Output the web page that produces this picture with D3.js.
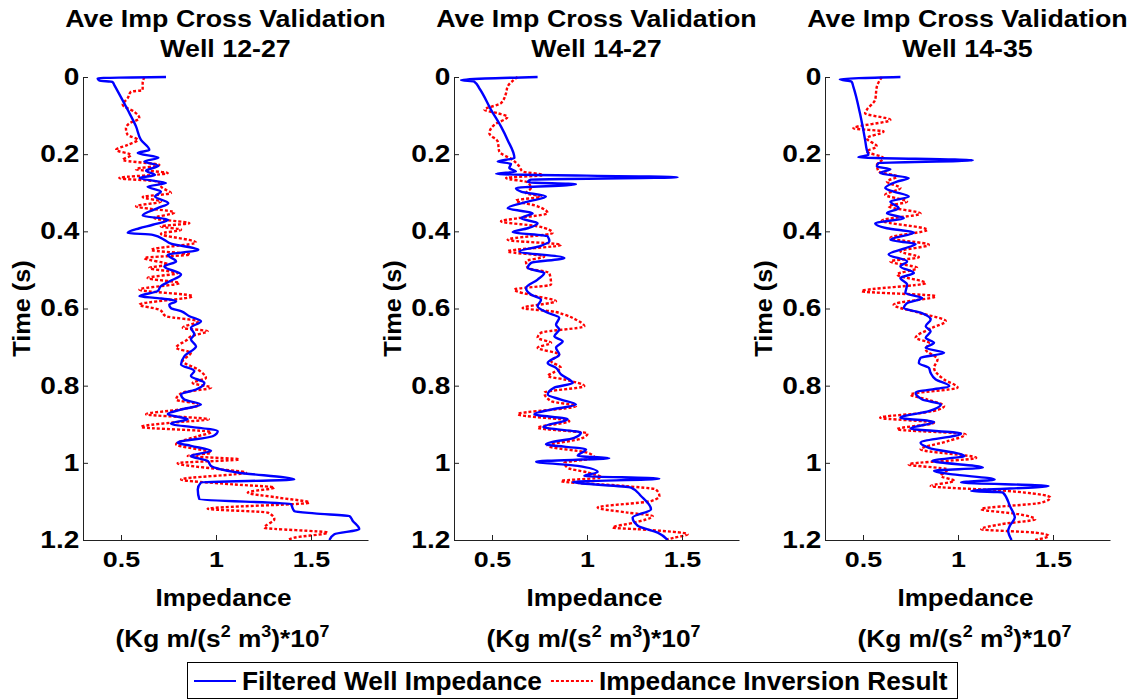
<!DOCTYPE html>
<html>
<head>
<meta charset="utf-8">
<script src="https://cdn.jsdelivr.net/npm/d3@7"></script>
<style>
  body { margin: 0; background: #fff; }
  text { font-family: "Liberation Sans", Arial, Helvetica, sans-serif; font-weight: bold; fill: #000; }
</style>
</head>
<body>
<div id="chart"></div>
<script>
// Data: [time (s), impedance]
var blue1227 = [[0.000,0.737],[0.003,0.377],[0.009,0.386],[0.013,0.456],[0.021,0.465],[0.085,0.535],[0.128,0.579],[0.163,0.605],[0.189,0.649],[0.197,0.588],[0.209,0.697],[0.219,0.623],[0.230,0.697],[0.243,0.632],[0.254,0.679],[0.262,0.597],[0.275,0.737],[0.284,0.640],[0.297,0.710],[0.310,0.679],[0.327,0.749],[0.340,0.693],[0.359,0.614],[0.370,0.749],[0.383,0.667],[0.392,0.597],[0.404,0.535],[0.409,0.667],[0.422,0.728],[0.432,0.763],[0.448,0.907],[0.461,0.746],[0.478,0.790],[0.491,0.728],[0.512,0.816],[0.530,0.754],[0.542,0.710],[0.555,0.693],[0.568,0.597],[0.573,0.693],[0.581,0.790],[0.590,0.754],[0.599,0.763],[0.607,0.816],[0.620,0.860],[0.633,0.921],[0.650,0.868],[0.667,0.886],[0.680,0.868],[0.698,0.895],[0.724,0.833],[0.745,0.816],[0.762,0.886],[0.775,0.868],[0.793,0.939],[0.810,0.895],[0.823,0.816],[0.836,0.833],[0.849,0.921],[0.862,0.816],[0.874,0.746],[0.887,0.851],[0.898,0.763],[0.918,1.009],[0.931,0.982],[0.948,0.798],[0.956,0.868],[0.969,0.974],[0.982,0.868],[0.995,0.956],[1.008,0.974],[1.025,1.114],[1.043,1.412],[1.051,0.921],[1.069,0.904],[1.094,0.912],[1.107,1.395],[1.113,1.400],[1.125,1.412],[1.131,1.518],[1.138,1.702],[1.150,1.719],[1.172,1.754],[1.185,1.623],[1.200,1.597]];
var red1227 = [[0.000,0.623],[0.016,0.614],[0.034,0.614],[0.038,0.553],[0.055,0.535],[0.072,0.509],[0.090,0.570],[0.107,0.597],[0.120,0.544],[0.133,0.526],[0.150,0.535],[0.163,0.588],[0.176,0.535],[0.189,0.474],[0.202,0.553],[0.215,0.509],[0.228,0.702],[0.239,0.579],[0.249,0.746],[0.262,0.491],[0.271,0.693],[0.288,0.719],[0.301,0.763],[0.311,0.614],[0.323,0.710],[0.335,0.579],[0.351,0.781],[0.366,0.676],[0.379,0.860],[0.387,0.710],[0.396,0.816],[0.406,0.710],[0.429,0.895],[0.448,0.658],[0.460,0.864],[0.469,0.623],[0.486,0.746],[0.495,0.649],[0.508,0.798],[0.521,0.640],[0.534,0.807],[0.551,0.597],[0.568,0.877],[0.590,0.597],[0.603,0.702],[0.620,0.737],[0.633,0.904],[0.650,0.825],[0.659,0.956],[0.672,0.868],[0.680,0.851],[0.702,0.790],[0.715,0.868],[0.736,0.825],[0.758,0.904],[0.780,0.947],[0.793,0.877],[0.805,0.974],[0.818,0.825],[0.836,0.790],[0.849,0.912],[0.862,0.807],[0.874,0.632],[0.887,0.962],[0.896,0.763],[0.907,0.605],[0.920,0.975],[0.931,0.904],[0.952,0.790],[0.974,0.974],[0.982,0.851],[0.991,1.123],[1.001,0.798],[1.017,1.026],[1.025,1.158],[1.043,0.816],[1.056,1.096],[1.064,1.307],[1.077,1.167],[1.090,1.325],[1.103,1.491],[1.119,0.956],[1.129,1.272],[1.146,1.307],[1.168,1.254],[1.181,1.588],[1.194,1.412],[1.200,1.377]];

var blue1427 = [[0.000,0.740],[0.008,0.337],[0.012,0.407],[0.029,0.433],[0.085,0.495],[0.128,0.547],[0.163,0.582],[0.210,0.618],[0.219,0.530],[0.225,0.600],[0.236,0.591],[0.245,0.626],[0.251,0.521],[0.260,1.477],[0.266,0.705],[0.273,0.688],[0.278,0.942],[0.288,0.626],[0.297,0.653],[0.310,0.784],[0.323,0.688],[0.340,0.582],[0.353,0.714],[0.366,0.653],[0.379,0.740],[0.392,0.688],[0.402,0.609],[0.413,0.793],[0.426,0.802],[0.439,0.749],[0.452,0.644],[0.469,0.881],[0.482,0.705],[0.495,0.688],[0.508,0.775],[0.525,0.740],[0.547,0.679],[0.564,0.705],[0.577,0.758],[0.594,0.740],[0.611,0.793],[0.624,0.854],[0.642,0.837],[0.654,0.854],[0.672,0.828],[0.685,0.872],[0.702,0.837],[0.719,0.854],[0.741,0.793],[0.754,0.837],[0.771,0.863],[0.793,0.925],[0.805,0.828],[0.823,0.793],[0.836,0.863],[0.849,0.942],[0.862,0.811],[0.874,0.723],[0.887,0.898],[0.907,0.770],[0.922,0.968],[0.935,0.933],[0.952,0.784],[0.965,0.995],[0.982,0.951],[0.988,1.117],[0.997,0.732],[1.008,0.951],[1.024,1.056],[1.034,0.986],[1.041,1.381],[1.050,0.925],[1.064,1.232],[1.086,1.284],[1.120,1.337],[1.142,1.240],[1.163,1.267],[1.181,1.372],[1.200,1.425]];
var red1427 = [[0.000,0.635],[0.025,0.582],[0.042,0.574],[0.068,0.547],[0.085,0.460],[0.094,0.530],[0.103,0.582],[0.124,0.512],[0.146,0.486],[0.167,0.530],[0.193,0.538],[0.215,0.609],[0.232,0.644],[0.245,0.661],[0.254,0.767],[0.262,0.574],[0.273,0.688],[0.288,0.705],[0.301,0.679],[0.310,0.758],[0.320,0.626],[0.335,0.740],[0.353,0.793],[0.366,0.635],[0.374,0.547],[0.387,0.740],[0.404,0.819],[0.422,0.582],[0.435,0.863],[0.452,0.582],[0.465,0.775],[0.478,0.679],[0.495,0.688],[0.508,0.802],[0.538,0.811],[0.551,0.617],[0.568,0.732],[0.581,0.837],[0.599,0.661],[0.607,0.811],[0.616,0.881],[0.629,0.942],[0.646,0.986],[0.663,0.758],[0.676,0.740],[0.689,0.811],[0.702,0.740],[0.719,0.854],[0.736,0.811],[0.754,0.863],[0.767,0.819],[0.775,0.793],[0.784,0.881],[0.801,0.986],[0.818,0.775],[0.840,0.811],[0.853,0.942],[0.874,0.635],[0.892,0.907],[0.909,0.740],[0.924,1.003],[0.937,0.970],[0.956,0.793],[0.974,1.003],[0.987,1.039],[1.000,0.881],[1.013,0.898],[1.025,1.003],[1.038,1.074],[1.047,0.863],[1.060,1.196],[1.069,1.363],[1.086,1.381],[1.099,1.337],[1.116,1.056],[1.129,1.214],[1.138,1.346],[1.155,1.249],[1.168,1.135],[1.172,1.267],[1.185,1.530],[1.194,1.460],[1.200,1.407]];

var blue1435 = [[0.000,0.697],[0.006,0.378],[0.012,0.440],[0.025,0.449],[0.094,0.484],[0.163,0.511],[0.189,0.520],[0.202,0.528],[0.208,0.475],[0.216,1.078],[0.223,0.582],[0.232,0.573],[0.239,0.644],[0.249,0.590],[0.262,0.741],[0.271,0.679],[0.288,0.617],[0.297,0.661],[0.310,0.741],[0.323,0.644],[0.340,0.688],[0.353,0.626],[0.366,0.715],[0.379,0.564],[0.392,0.626],[0.403,0.768],[0.422,0.644],[0.433,0.777],[0.445,0.715],[0.460,0.635],[0.478,0.732],[0.491,0.697],[0.508,0.768],[0.521,0.697],[0.538,0.732],[0.560,0.723],[0.573,0.812],[0.586,0.732],[0.599,0.715],[0.611,0.803],[0.629,0.856],[0.646,0.830],[0.659,0.856],[0.676,0.830],[0.689,0.874],[0.702,0.830],[0.715,0.927],[0.728,0.803],[0.741,0.794],[0.754,0.847],[0.767,0.856],[0.784,0.883],[0.801,0.954],[0.818,0.777],[0.836,0.812],[0.849,0.910],[0.866,0.847],[0.883,0.697],[0.894,0.874],[0.911,0.750],[0.924,1.016],[0.948,0.803],[0.961,0.847],[0.982,1.034],[0.995,0.865],[1.012,1.131],[1.021,0.874],[1.030,0.972],[1.043,1.193],[1.051,1.016],[1.060,1.477],[1.073,1.069],[1.077,1.237],[1.112,1.273],[1.142,1.299],[1.163,1.273],[1.176,1.264],[1.200,1.282]];
var red1435 = [[0.000,0.599],[0.025,0.573],[0.059,0.564],[0.085,0.520],[0.094,0.511],[0.111,0.644],[0.133,0.449],[0.141,0.608],[0.159,0.520],[0.180,0.573],[0.193,0.520],[0.210,0.608],[0.228,0.573],[0.245,0.582],[0.258,0.679],[0.271,0.626],[0.288,0.697],[0.305,0.617],[0.323,0.732],[0.335,0.635],[0.354,0.803],[0.372,0.599],[0.396,0.839],[0.417,0.644],[0.435,0.847],[0.452,0.697],[0.467,0.794],[0.478,0.644],[0.495,0.785],[0.512,0.679],[0.534,0.830],[0.555,0.493],[0.568,0.883],[0.590,0.661],[0.611,0.794],[0.633,0.936],[0.650,0.865],[0.676,0.777],[0.689,0.847],[0.706,0.830],[0.732,0.892],[0.754,0.874],[0.784,0.927],[0.805,0.998],[0.823,0.750],[0.836,0.839],[0.853,0.927],[0.870,0.821],[0.883,0.590],[0.896,0.874],[0.913,0.679],[0.926,1.040],[0.944,0.945],[0.965,0.803],[0.987,1.096],[1.004,0.741],[1.017,0.945],[1.034,0.910],[1.047,0.980],[1.060,0.856],[1.073,1.264],[1.090,1.486],[1.103,1.442],[1.120,1.122],[1.133,1.317],[1.146,1.406],[1.159,1.229],[1.172,1.122],[1.181,1.406],[1.189,1.477],[1.200,1.406]];

var wells = ["Well 12-27", "Well 14-27", "Well 14-35"];
var filtered = [blue1227, blue1427, blue1435];
var inverted = [red1227, red1427, red1435];
var timeTicks = [0, 0.2, 0.4, 0.6, 0.8, 1, 1.2];
var impTicks = [0.5, 1, 1.5];
var seriesNames = ["Filtered Well Impedance", "Impedance Inversion Result"];

// layout
var W = 1131, H = 700;
var panelLeft = [83, 454, 825], pw = 285, plotTop = 77, plotBottom = 540;

var svg = d3.select("#chart").append("svg")
    .attr("width", W)
    .attr("height", H);

var y = d3.scaleLinear().domain([0, 1.2]).range([plotTop, plotBottom]);
var x = d3.scaleLinear().domain([0.3, 1.8]).range([0, pw]);

var line = d3.line()
    .x(function(d) { return x(d[1]); })
    .y(function(d) { return y(d[0]); })
    .curve(d3.curveMonotoneY);

svg.append("clipPath").attr("id", "plotclip")
  .append("rect")
    .attr("x", 0).attr("y", plotTop - 3)
    .attr("width", pw).attr("height", plotBottom - plotTop + 3);

wells.forEach(function(well, i) {
  var g = svg.append("g").attr("transform", "translate(" + panelLeft[i] + ",0)");

  // lines
  var plot = g.append("g").attr("clip-path", "url(#plotclip)");
  plot.append("path")
    .datum(inverted[i])
    .attr("fill", "none")
    .attr("stroke", "#ff0000")
    .attr("stroke-width", 2.4)
    .attr("stroke-dasharray", "3,2")
    .attr("d", line);
  plot.append("path")
    .datum(filtered[i])
    .attr("fill", "none")
    .attr("stroke", "#0000ff")
    .attr("stroke-width", 2.4)
    .attr("d", line);

  // y axis
  var ya = g.append("g")
    .style("color", "#222")
    .call(d3.axisLeft(y).tickValues(timeTicks).tickSize(-5).tickSizeOuter(0).tickPadding(3)
      .tickFormat(function(d) { return String(d); }));
  ya.selectAll("text").style("font-size", "23px").attr("transform", "scale(1.22,1)");

  // x axis
  var xa = g.append("g")
    .attr("transform", "translate(0," + plotBottom + ")")
    .style("color", "#222")
    .call(d3.axisBottom(x).tickValues(impTicks).tickSize(-5).tickSizeOuter(0).tickPadding(11)
      .tickFormat(function(d) { return String(d); }));
  xa.selectAll("text").style("font-size", "22px").attr("transform", "scale(1.22,1)");

  // titles
  var cx = pw / 2;
  g.append("text")
    .attr("text-anchor", "middle")
    .attr("transform", "translate(" + cx + ",27) scale(1.14,1)")
    .style("font-size", "23.5px")
    .text("Ave Imp Cross Validation");
  g.append("text")
    .attr("text-anchor", "middle")
    .attr("transform", "translate(" + cx + ",57) scale(1.14,1)")
    .style("font-size", "23.5px")
    .text(well);

  // axis labels
  g.append("text")
    .attr("text-anchor", "middle")
    .attr("transform", "translate(-53," + ((plotTop + plotBottom) / 2) + ") rotate(-90) scale(1.1,1)")
    .style("font-size", "23px")
    .text("Time (s)");

  g.append("text")
    .attr("text-anchor", "middle")
    .attr("transform", "translate(" + (cx - 2) + ",606) scale(1.11,1)")
    .style("font-size", "23.5px")
    .text("Impedance");

  var units = g.append("text")
    .attr("text-anchor", "middle")
    .attr("transform", "translate(" + (cx - 3) + ",647) scale(1.12,1)")
    .style("font-size", "23.5px");
  units.append("tspan").text("(Kg m/(s");
  units.append("tspan").attr("dy", -10).style("font-size", "16px").text("2");
  units.append("tspan").attr("dy", 10).text(" m");
  units.append("tspan").attr("dy", -10).style("font-size", "16px").text("3");
  units.append("tspan").attr("dy", 10).text(")*10");
  units.append("tspan").attr("dy", -10).style("font-size", "16px").text("7");
});

// legend
var legend = svg.append("g");
legend.append("rect")
  .attr("x", 187.5).attr("y", 662.5)
  .attr("width", 770).attr("height", 36)
  .attr("fill", "#fff")
  .attr("stroke", "#000")
  .attr("stroke-width", 1);

var lx = 194;
seriesNames.forEach(function(name, i) {
  legend.append("line")
    .attr("x1", lx).attr("x2", lx + 42)
    .attr("y1", 681).attr("y2", 681)
    .attr("stroke", i === 0 ? "#0000ff" : "#ff0000")
    .attr("stroke-width", 2)
    .attr("stroke-dasharray", i === 0 ? null : "3,2");
  lx += 48;
  var t = legend.append("text")
    .attr("transform", "translate(" + lx + ",690) scale(1.05,1)")
    .style("font-size", "25px")
    .text(name);
  lx += t.node().getComputedTextLength() * 1.05 + 9;
});
</script>
</body>
</html>
